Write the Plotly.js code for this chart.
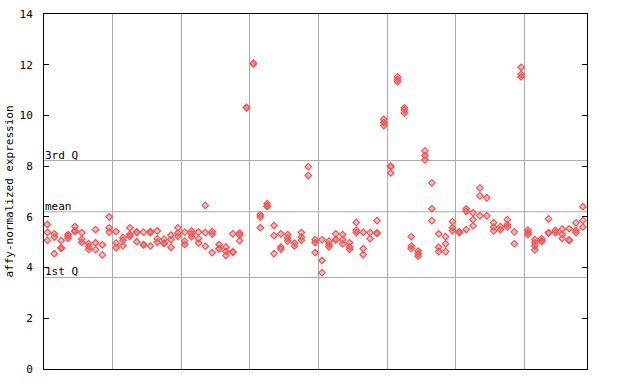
<!DOCTYPE html>
<html>
<head>
<meta charset="utf-8">
<script src="https://cdn.plot.ly/plotly-3.0.1.min.js"></script>
<style>html,body{margin:0;padding:0;background:#fff;}#chart{width:640px;height:384px;}</style>
</head>
<body>
<div id="chart"></div>
<script>
// Expression values per sample column (replicates), grouped in blocks of 10 columns
const block1 = [[5.70,5.39,5.07],[5.33,5.20,4.55],[5.06,4.78,4.76],[5.30,5.25,5.16],[5.62,5.45,5.42],[5.38,5.12,5.00],[4.95,4.83,4.72],[5.50,4.98,4.71],[4.90,4.50],[6.00,5.57,5.40]];
const block2 = [[5.42,4.97,4.78],[5.18,5.07,4.86],[5.57,5.31,5.23],[5.41,5.39,5.02],[5.40,4.91,4.89],[5.42,5.38,4.85],[5.45,5.14,5.00],[5.12,4.97,4.95],[5.28,5.10,4.80],[5.57,5.36,5.24]];
const block3 = [[5.40,5.04,4.91],[5.44,5.33,5.22],[5.40,5.14,4.97],[6.45,5.38,4.84],[5.42,5.32,4.59],[4.91,4.75,4.74],[4.81,4.64,4.48],[5.33,4.62,4.60],[5.36,5.28,5.06],[10.32,10.30]];
const block4 = [[12.06,12.03],[6.08,5.99,5.57],[6.52,6.43,6.41],[5.66,5.26,4.55],[5.33,4.81,4.73],[5.30,5.17,5.04],[4.97,4.85],[5.38,5.20,5.08],[7.98,7.63],[5.10,4.98,4.59]];
const block5 = [[5.10,4.28,3.80],[5.04,4.92,4.82],[5.33,5.11,5.09],[5.30,5.10,4.94],[4.98,4.82,4.72],[5.78,5.47,5.38],[5.39,4.75,4.51],[5.38,5.14],[5.85,5.37,5.35],[9.85,9.72,9.60]];
const block6 = [[8.00,7.98,7.73],[11.52,11.42,11.33],[10.30,10.21,10.10],[5.22,4.85,4.75],[4.65,4.55,4.45],[8.60,8.42,8.25],[7.34,6.32,5.85],[5.33,4.81,4.63],[5.22,4.94,4.63],[5.81,5.57,5.46]];
const block7 = [[5.41,5.40,5.38],[6.32,6.22,5.50],[6.16,5.89,5.65],[7.14,6.83,6.04],[6.75,6.04],[5.77,5.60,5.45],[5.62,5.50],[5.89,5.69,5.60],[5.41,4.94],[11.90,11.62,11.52]];
const block8 = [[5.48,5.38,5.30],[5.10,4.98,4.85,4.70],[5.14,5.05,5.03],[5.92,5.38,5.36],[5.47,5.38],[5.52,5.31,5.15],[5.53,5.09,5.07],[5.76,5.47,5.38],[6.40,5.86,5.60]];

const quartileLabels = ["3rd Q", "mean", "1st Q"];
const quartileValues = [8.22, 6.20, 3.61];
const yTicks = [0, 2, 4, 6, 8, 10, 12, 14];
const groupBoundaries = [10, 20, 30, 40, 50, 60, 70];
const yTitle = "affy-normalized expression";

const columns = [].concat(block1, block2, block3, block4, block5, block6, block7, block8);
const xs = [], ys = [];
columns.forEach((vals, i) => { vals.forEach(v => { xs.push(i + 0.5); ys.push(v); }); });

const FONT = "DejaVu Sans Mono, monospace";

const trace = {
  x: xs, y: ys, type: "scatter", mode: "markers",
  marker: { symbol: "diamond", size: 5, color: "rgba(255,90,90,0.35)", line: { width: 1.2, color: "#ff4d4d" } },
  hoverinfo: "y", showlegend: false
};

const shapes = quartileValues.map(v => ({
  type: "line", xref: "paper", yref: "y", x0: 0, x1: 1, y0: v, y1: v,
  line: { color: "#aaaaaa", width: 1 }, layer: "below"
}));

const annotations = quartileValues.map((v, i) => ({
  xref: "paper", yref: "y", x: 0, y: v, xanchor: "left", yanchor: "bottom",
  text: quartileLabels[i], showarrow: false, xshift: -1, yshift: -3,
  font: { family: FONT, size: 11, color: "#000" }
}));

const layout = {
  width: 640, height: 384,
  margin: { l: 44, r: 53, t: 14, b: 15, pad: 0 },
  paper_bgcolor: "#fff", plot_bgcolor: "#fff",
  xaxis: {
    range: [0, columns.length + 0.1], tickvals: groupBoundaries, showticklabels: false, ticks: "",
    showgrid: true, gridcolor: "#aaaaaa", gridwidth: 1, zeroline: false,
    showline: true, linecolor: "#000", linewidth: 1, mirror: true, fixedrange: true
  },
  yaxis: {
    range: [0, 14], tickvals: yTicks, ticktext: yTicks.map(String),
    ticks: "inside", ticklen: 5, tickcolor: "#000", tickwidth: 1,
    showgrid: false, zeroline: false, showline: true, linecolor: "#000", linewidth: 1, mirror: "ticks",
    ticklabelstandoff: 8,
    tickfont: { family: FONT, size: 11, color: "#000" },
    title: { text: yTitle, font: { family: FONT, size: 11, color: "#000" }, standoff: 3 },
    fixedrange: true
  },
  shapes: shapes,
  annotations: annotations
};

Plotly.newPlot("chart", [trace], layout, { staticPlot: true, displayModeBar: false });
</script>
</body>
</html>
